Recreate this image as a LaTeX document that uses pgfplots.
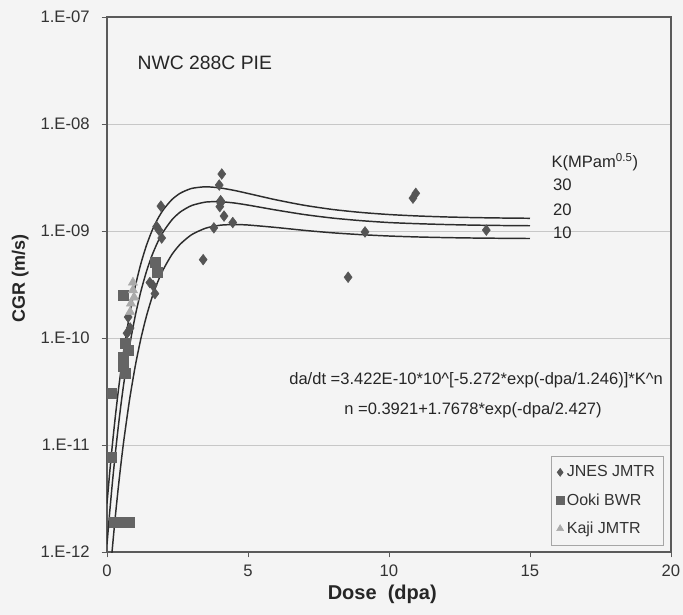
\documentclass[border=0pt]{standalone}
\usepackage{fontspec}
\setmainfont{Liberation Sans}
\usepackage{pgfplots}
\pgfplotsset{compat=1.18}
\definecolor{bg}{RGB}{244,244,244}
\definecolor{jnes}{RGB}{85,85,85}
\definecolor{ooki}{RGB}{100,100,100}
\definecolor{kaji}{RGB}{170,170,170}
\definecolor{curvec}{RGB}{45,45,45}
\definecolor{axisc}{RGB}{90,90,90}
\begin{document}
\begin{tikzpicture}
\path[use as bounding box, fill=bg] (-80.25pt,-47.25pt) rectangle (432pt,414pt);
\begin{axis}[
  at={(0,0)}, anchor=south west,
  scale only axis, width=423pt, height=401.25pt,
  xmin=0, xmax=20, ymode=log, ymin=1e-12, ymax=1e-7,
  xtick={0,5,10,15,20}, xticklabels={0,5,10,15,20},
  ytick={1e-12,1e-11,1e-10,1e-9,1e-8,1e-7},
  yticklabels={1.E-12,1.E-11,1.E-10,1.E-09,1.E-08,1.E-07},
  yminorticks=false, xminorticks=false,
  tick align=outside, xtick pos=bottom, ytick pos=left,
  major tick length=4pt,
  ymajorgrids, major grid style={color=black!22, line width=0.6pt},
  axis line style={color=axisc, line width=0.8pt},
  tick style={color=axisc, line width=0.6pt},
  ticklabel style={font=\fontsize{12.5}{14}\selectfont, text=black!80},
  yticklabel style={xshift=-5.5pt},
  xticklabel style={yshift=-2pt},
  xlabel={Dose\ \ (dpa)}, ylabel={CGR (m/s)},
  xlabel style={at={(axis description cs:0.488,-0.080)}, anchor=center,
    font=\bfseries\fontsize{15}{17}\selectfont, text=black!85},
  ylabel style={at={(axis description cs:-0.154,0.512)}, anchor=center,
    font=\bfseries\fontsize{13.5}{15}\selectfont, text=black!85},
  axis background/.style={fill=bg},
  legend style={at={(rel axis cs:0.986,0.013)}, anchor=south east,
    draw=black!35, fill=bg, font=\fontsize{12}{14}\selectfont,
    text=black!80, row sep=7pt, inner xsep=4pt, inner ysep=5pt,
    cells={anchor=west}},
  legend image code/.code={\draw[#1, mark size=3pt] plot coordinates {(0.1cm,0cm)};},
]
% model curves K = 10, 20, 30
\addplot[curvec, line width=1.1pt, smooth, tension=0.4, forget plot] coordinates {
(0,2.644e-13) (0.1,5.72e-13) (0.2,1.159e-12) (0.3,2.21e-12) (0.4,3.99e-12) (0.5,6.85e-12)
(0.6,1.122e-11) (0.8,2.65e-11) (1.0,5.43e-11) (1.2,9.83e-11) (1.4,1.605e-10) (1.6,2.41e-10)
(1.8,3.35e-10) (2.0,4.39e-10) (2.3,6.02e-10) (2.6,7.55e-10) (3.0,9.24e-10) (3.5,1.063e-9)
(4.0,1.132e-9) (4.5,1.150e-9) (5,1.138e-9) (6,1.079e-9) (7,1.014e-9) (8,9.62e-10)
(9,9.25e-10) (10,8.98e-10) (11,8.80e-10) (12,8.68e-10) (13,8.60e-10) (14,8.55e-10) (15,8.51e-10)};
\addplot[curvec, line width=1.1pt, smooth, tension=0.4, forget plot] coordinates {
(0,1.18e-12) (0.1,2.43e-12) (0.2,4.70e-12) (0.3,8.57e-12) (0.4,1.48e-11) (0.5,2.44e-11)
(0.6,3.83e-11) (0.8,8.41e-11) (1.0,1.604e-10) (1.2,2.72e-10) (1.4,4.19e-10) (1.6,5.95e-10)
(1.8,7.89e-10) (2.0,9.87e-10) (2.3,1.27e-9) (2.6,1.507e-9) (3.0,1.73e-9) (3.5,1.865e-9)
(4.0,1.88e-9) (4.5,1.83e-9) (5,1.747e-9) (6,1.57e-9) (7,1.425e-9) (8,1.321e-9)
(9,1.25e-9) (10,1.20e-9) (11,1.171e-9) (12,1.15e-9) (13,1.135e-9) (14,1.126e-9) (15,1.12e-9)};
\addplot[curvec, line width=1.1pt, smooth, tension=0.4, forget plot] coordinates {
(0,2.84e-12) (0.1,5.68e-12) (0.2,1.067e-11) (0.3,1.89e-11) (0.4,3.19e-11) (0.5,5.12e-11)
(0.6,7.87e-11) (0.8,1.65e-10) (1.0,3.02e-10) (1.2,4.94e-10) (1.4,7.35e-10) (1.6,1.011e-9)
(1.8,1.30e-9) (2.0,1.584e-9) (2.3,1.965e-9) (2.6,2.258e-9) (3.0,2.50e-9) (3.5,2.59e-9)
(4.0,2.53e-9) (4.5,2.40e-9) (5,2.244e-9) (6,1.955e-9) (7,1.739e-9) (8,1.59e-9)
(9,1.492e-9) (10,1.426e-9) (11,1.383e-9) (12,1.354e-9) (13,1.335e-9) (14,1.323e-9) (15,1.315e-9)};
% JNES JMTR
\addplot[only marks, mark=diamond*, mark size=4pt, color=jnes, fill=jnes] coordinates {
(4.07,3.41e-9) (3.98,2.69e-9) (4.03,1.92e-9) (4.03,1.83e-9) (4.0,1.69e-9) (4.15,1.38e-9)
(4.46,1.2e-9) (3.79,1.07e-9) (3.41,5.4e-10) (8.55,3.7e-10) (9.15,9.8e-10) (10.85,2.03e-9)
(10.95,2.25e-9) (13.45,1.02e-9) (1.91,1.71e-9) (1.76,1.10e-9) (1.84,1.02e-9) (1.94,8.6e-10)
(1.63,3.1e-10) (1.52,3.3e-10) (1.70,2.6e-10) (1.77,4.3e-10) (0.75,1.57e-10) (0.82,1.24e-10)
(0.71,1.11e-10)};
\addlegendentry{JNES JMTR}
% Ooki BWR
\addplot[only marks, mark=square*, mark size=3.7pt, color=ooki, fill=ooki] coordinates {
(0.17,3.06e-11) (0.17,7.7e-12) (0.25,1.9e-12) (0.45,1.9e-12) (0.65,1.9e-12) (0.8,1.9e-12)
(0.57,2.5e-10) (0.64,9e-11) (0.74,7.7e-11) (0.57,6.6e-11) (0.57,5.4e-11) (0.64,4.7e-11)
(1.70,5.1e-10) (1.77,4.1e-10)};
\addlegendentry{Ooki BWR}
% Kaji JMTR
\addplot[only marks, mark=triangle*, mark size=4pt, color=kaji, fill=kaji] coordinates {
(0.92,3.3e-10) (0.92,2.8e-10) (0.96,2.4e-10) (0.85,2.1e-10) (0.82,1.75e-10)};
\addlegendentry{Kaji JMTR}
% annotations
\node[anchor=west, font=\fontsize{14.5}{16}\selectfont, text=black!85] at (axis cs:0.92,3.7e-8) {NWC 288C PIE};
\node[anchor=center, font=\fontsize{12.4}{14}\selectfont, text=black!85] at (axis cs:13.09,4.05e-11)
  {da/dt =3.422E-10*10\textasciicircum[-5.272*exp(-dpa/1.246)]*K\textasciicircum n};
\node[anchor=center, font=\fontsize{12.4}{14}\selectfont, text=black!85] at (axis cs:12.98,2.12e-11)
  {n =0.3921+1.7678*exp(-dpa/2.427)};
\node[anchor=west, font=\fontsize{12.4}{14}\selectfont, text=black!85] at (axis cs:15.6,4.4e-9) {K(MPam\textsuperscript{0.5})};
\node[anchor=west, font=\fontsize{12.5}{14}\selectfont, text=black!85] at (axis cs:15.65,2.69e-9) {30};
\node[anchor=west, font=\fontsize{12.5}{14}\selectfont, text=black!85] at (axis cs:15.65,1.57e-9) {20};
\node[anchor=west, font=\fontsize{12.5}{14}\selectfont, text=black!85] at (axis cs:15.65,9.6e-10) {10};
\end{axis}
\end{tikzpicture}
\end{document}
